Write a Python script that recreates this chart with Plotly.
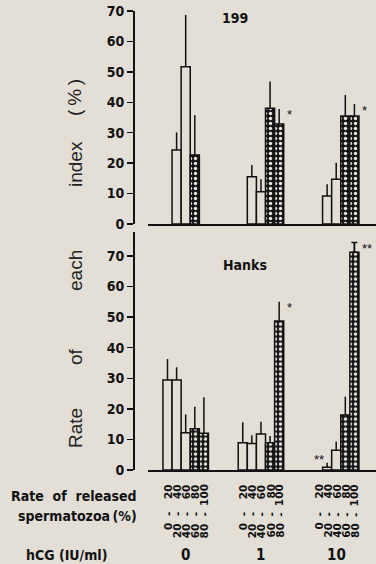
import plotly.graph_objects as go

# ---------------- data ----------------
categories = ["0-20", "20-40", "40-60", "60-80", "80-100"]
hcg_doses = ["0", "1", "10"]
panel_titles = ["199", "Hanks"]
y_ticks = [0, 10, 20, 30, 40, 50, 60, 70]

m199_values = [[None, 24.3, 51.7, 22.7, None],
               [None, 15.5, 10.6, 38.0, 32.9],
               [None, 9.2, 14.7, 35.5, 35.5]]
m199_errors = [[None, 5.8, 17.0, 13.0, None],
               [None, 3.9, 4.1, 8.8, 4.9],
               [None, 3.9, 5.4, 6.9, 3.9]]
m199_signif = [["", "", "", "", ""],
               ["", "", "", "", "*"],
               ["", "", "", "", "*"]]

hanks_values = [[29.4, 29.4, 12.2, 13.5, 12.0],
                [8.9, 8.7, 11.8, 8.9, 48.7],
                [None, 0.9, 6.5, 18.0, 71.2]]
hanks_errors = [[6.9, 4.2, 6.0, 7.2, 11.8],
                [6.7, 2.7, 4.0, 2.2, 6.3],
                [None, 1.5, 2.8, 6.0, 3.2]]
hanks_signif = [["", "", "", "", ""],
                ["", "", "", "", "*"],
                ["", "**", "", "", "**"]]

# ---------------- style ----------------
W, H = 376, 564
BG = "#e3ded6"
INK = "#111111"
COND = "DejaVu Sans Condensed, DejaVu Sans, sans-serif"
SANS = "Liberation Sans, Arial, sans-serif"
GROUP_PERIOD = 8.27          # slots between group starts
STIPPLED_CATS = {"60-80", "80-100"}
CAPPED = {(1, 2, 4)}         # (panel, group, category) with capped error bar


def px_x(p):
    return p / W


def px_y(p):
    return 1 - p / H


def slot_pos(g, k):
    return g * GROUP_PERIOD + k


panels = [
    dict(vals=m199_values, errs=m199_errors, sig=m199_signif, xa="x", ya="y",
         yrange=[0, 70], dom=[px_y(224), px_y(11)]),
    dict(vals=hanks_values, errs=hanks_errors, sig=hanks_signif, xa="x2", ya="y2",
         yrange=[0, 78], dom=[px_y(470), px_y(470 - 78 * 3.057)]),
]

fig = go.Figure()
annotations = []

for pi, pan in enumerate(panels):
    for stip in (False, True):
        xs, ys, es = [], [], []
        for g in range(len(hcg_doses)):
            for k, cat in enumerate(categories):
                v = pan["vals"][g][k]
                if v is None or (cat in STIPPLED_CATS) != stip:
                    continue
                xs.append(slot_pos(g, k))
                ys.append(v)
                es.append(pan["errs"][g][k])
        marker = dict(color=BG, line=dict(color=INK, width=1.5))
        if stip:
            marker["pattern"] = dict(shape=".", bgcolor="#161616", fgcolor="#ece8e0",
                                     size=5, solidity=0.35, fillmode="replace")
        fig.add_trace(go.Bar(
            x=xs, y=ys, width=1, xaxis=pan["xa"], yaxis=pan["ya"],
            marker=marker, showlegend=False, hoverinfo="skip",
            error_y=dict(type="data", symmetric=False, array=es,
                         arrayminus=[0] * len(es), width=0, thickness=1.5,
                         color=INK)))
    # capped error bars
    for (cp, g, k) in CAPPED:
        if cp != pi:
            continue
        fig.add_trace(go.Scatter(
            x=[slot_pos(g, k)], y=[pan["vals"][g][k]], mode="markers",
            marker=dict(size=1, opacity=0), xaxis=pan["xa"], yaxis=pan["ya"],
            showlegend=False, hoverinfo="skip",
            error_y=dict(type="data", symmetric=False, array=[pan["errs"][g][k]],
                         arrayminus=[0], width=3, thickness=1.5, color=INK)))
    # significance marks
    for g in range(len(hcg_doses)):
        present = [k for k in range(len(categories)) if pan["vals"][g][k] is not None]
        for k, s in enumerate(pan["sig"][g]):
            if not s:
                continue
            top = pan["vals"][g][k] + pan["errs"][g][k]
            first = (k == present[0])
            annotations.append(dict(
                x=slot_pos(g, k) + (0 if first else 0.5), y=top,
                xref=pan["xa"], yref=pan["ya"], text=s, showarrow=False,
                xanchor="right" if first else "left", yanchor="middle",
                xshift=-1 if first else 1, yshift=3 if first else -6,
                font=dict(family=SANS, size=13, color=INK)))
    # panel title
    title_px = [(234.5, 18), (245, 265)][pi]
    annotations.append(dict(
        x=px_x(title_px[0]), y=px_y(title_px[1]), xref="paper", yref="paper",
        text="<b>" + panel_titles[pi] + "</b>", showarrow=False,
        xanchor="center", yanchor="middle",
        font=dict(family=COND, size=14, color=INK)))

x_range = [(148 - 167.5) / 9.1, (376 - 167.5) / 9.1]
axis_common = dict(showgrid=False, zeroline=False, automargin=False)
fig.update_layout(
    width=W, height=H, margin=dict(l=0, r=0, t=0, b=0, pad=0, autoexpand=False),
    paper_bgcolor=BG, plot_bgcolor=BG, barmode="overlay",
    xaxis=dict(domain=[px_x(148), 1], range=x_range, anchor="y",
               showline=True, linecolor=INK, linewidth=1.5,
               showticklabels=False, ticks="", **axis_common),
    xaxis2=dict(domain=[px_x(148), 1], range=x_range, anchor="y2",
                showline=True, linecolor=INK, linewidth=1.5,
                showticklabels=False, ticks="", **axis_common),
)
for pi, pan in enumerate(panels):
    key = "yaxis" if pi == 0 else "yaxis2"
    fig.update_layout(**{key: dict(
        domain=pan["dom"], range=pan["yrange"], anchor="free", position=px_x(133),
        showline=True, linecolor=INK, linewidth=1.5,
        ticks="outside", ticklen=6, tickwidth=1.5, tickcolor=INK,
        tickvals=y_ticks, ticktext=["<b>%d</b>" % t for t in y_ticks],
        tickfont=dict(family=COND, size=14, color=INK),
        **axis_common)})

# category labels under bottom panel
for g in range(len(hcg_doses)):
    for k, cat in enumerate(categories):
        lo, hi = cat.split("-")
        x = slot_pos(g, k)
        for txt, ypx, ya in ((hi, 482, "top"), ("-", 514.5, "middle"), (lo, 521, "top")):
            annotations.append(dict(
                x=x, y=px_y(ypx), xref="x2", yref="paper", text="<b>" + txt + "</b>",
                showarrow=False, textangle=-90, xanchor="center", yanchor=ya,
                font=dict(family="DejaVu Sans", size=10.5, color=INK)))
    annotations.append(dict(
        x=slot_pos(g, 2), y=px_y(555), xref="x2", yref="paper",
        text="<b>" + hcg_doses[g] + "</b>",
        showarrow=False, xanchor="center", yanchor="middle",
        font=dict(family=COND, size=15, color=INK)))

# left-side texts
for txt, xpx, ypx, anchor in (("Rate\u00a0 of\u00a0 released", 139, 496, "right"),
                              ("spermatozoa\u2009(%)", 139, 516, "right"),
                              ("hCG (IU/ml)", 66, 555, "center")):
    annotations.append(dict(
        x=px_x(xpx), y=px_y(ypx), xref="paper", yref="paper", text="<b>" + txt + "</b>",
        showarrow=False, xanchor=anchor, yanchor="middle",
        font=dict(family=COND, size=14, color=INK)))

# y title words
for word, ypx in (("Rate", 428), ("of", 357), ("each", 271), ("index", 164),
                  ("(\u2009%\u2009)", 98)):
    annotations.append(dict(
        x=px_x(75), y=px_y(ypx), xref="paper", yref="paper", text=word,
        showarrow=False, textangle=-90, xanchor="center", yanchor="middle",
        font=dict(family=SANS, size=19, color="#222222")))

fig.update_layout(annotations=annotations)
fig.write_html("out.html",
               config={"displayModeBar": False, "staticPlot": True},
               post_script="document.body.style.margin='0';"
                           "document.body.style.background='%s';" % BG)
